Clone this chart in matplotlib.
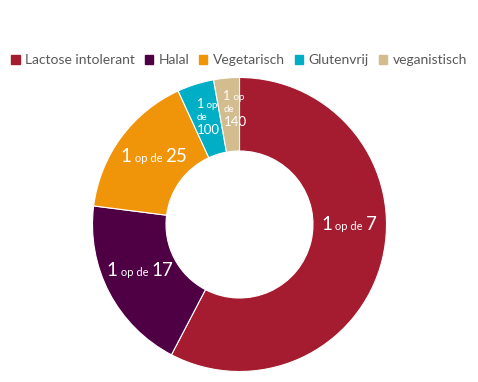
import matplotlib
matplotlib.use('Agg')
import matplotlib.pyplot as plt
from matplotlib.offsetbox import TextArea, HPacker, VPacker, AnnotationBbox

# data: share per group (%) and the "1 op de N" label
categories = ['Lactose intolerant', 'Halal', 'Vegetarisch', 'Glutenvrij', 'veganistisch']
values = [14.3, 4.8, 4.0, 1.0, 0.7]
ratios = [7, 17, 25, 100, 140]
colors = ['#A51B30', '#4F0044', '#F0950A', '#00AFC6', '#D3BC8D']

plt.rcParams['font.family'] = ['Lato', 'DejaVu Sans']

fig = plt.figure(figsize=(4.78, 3.82), dpi=100)
R = 147
cx, cy = 239.5, 224.5
ax = fig.add_axes([(cx - R) / 478, (382 - cy - R) / 382, 2 * R / 478, 2 * R / 382])

wedges, _ = ax.pie(values, colors=colors, startangle=90, counterclock=False,
                   radius=1, wedgeprops=dict(width=0.5, edgecolor='white', linewidth=0.8))
ax.set_xlim(-1, 1)
ax.set_ylim(-1, 1)
ax.set_aspect('equal')
ax.axis('off')


def txt(s, size):
    return TextArea(s, textprops=dict(color='white', fontsize=size))


def one_line(n, big=13.5, small=8):
    return HPacker(children=[txt('1', big), txt(' op de ', small), txt(str(n), big)],
                   align='baseline', pad=0, sep=0)


def stacked(n, first=9, small=7, last=9.5):
    row1 = HPacker(children=[txt('1', first), txt(' op', small)], align='baseline', pad=0, sep=0)
    return VPacker(children=[row1, txt('de', small), txt(str(n), last)],
                   align='left', pad=0, sep=2)


# label centres in pixels
label_px = [(349, 224), (140, 271), (154, 157), (208, 117), (235, 109)]
for n, (px, py) in zip(ratios, label_px):
    box = one_line(n) if n < 50 else stacked(n)
    ab = AnnotationBbox(box, ((px - cx) / R, (cy - py) / R), frameon=False,
                        box_alignment=(0.5, 0.5), pad=0)
    ax.add_artist(ab)

handles = [plt.Rectangle((0, 0), 1, 1, color=c) for c in colors]
fig.legend(handles, categories, loc='center', bbox_to_anchor=(0.5, 322 / 382), ncol=5,
           frameon=False, fontsize=10, handlelength=0.6, handleheight=0.6,
           handletextpad=0.4, columnspacing=0.7, labelcolor='#595959')

fig.savefig('out.png', dpi=100)
